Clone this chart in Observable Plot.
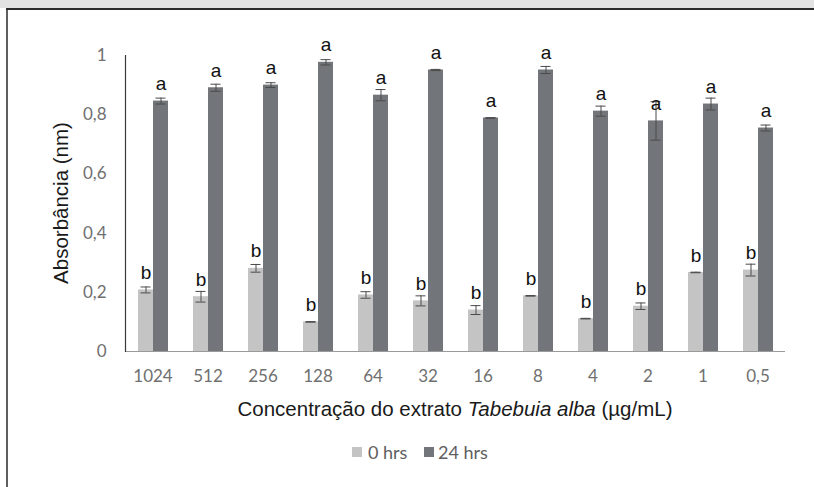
<!DOCTYPE html>
<html>
<head>
<meta charset="utf-8">
<script src="https://cdn.jsdelivr.net/npm/d3@7"></script>
<script src="https://cdn.jsdelivr.net/npm/@observablehq/plot@0.6"></script>
<style>
  html, body { margin: 0; padding: 0; background: #fff; overflow: hidden; }
  #chart { width: 814px; height: 487px; overflow: hidden; }
  #chart svg { display: block; }
</style>
</head>
<body>
<div id="chart"></div>
<script>
const categories = ["1024", "512", "256", "128", "64", "32", "16", "8", "4", "2", "1", "0,5"];
const seriesNames = ["0 hrs", "24 hrs"];
const mean0  = [0.208, 0.185, 0.281, 0.100, 0.191, 0.171, 0.140, 0.188, 0.111, 0.153, 0.267, 0.275];
const err0   = [0.010, 0.018, 0.013, 0.001, 0.011, 0.017, 0.015, 0.001, 0.001, 0.011, 0.001, 0.020];
const mean24 = [0.846, 0.891, 0.900, 0.977, 0.866, 0.951, 0.789, 0.951, 0.812, 0.779, 0.836, 0.755];
const err24  = [0.010, 0.012, 0.008, 0.009, 0.019, 0.002, 0.001, 0.012, 0.017, 0.065, 0.020, 0.010];
const letters0  = ["b", "b", "b", "b", "b", "b", "b", "b", "b", "b", "b", "b"];
const letters24 = ["a", "a", "a", "a", "a", "a", "a", "a", "a", "a", "a", "a"];
const yTicks = [0, 0.2, 0.4, 0.6, 0.8, 1];
const seriesColors = ["#c4c4c4", "#727579"];

const rows = [];
categories.forEach((c, i) => {
  rows.push({cat: c, series: seriesNames[0], v: mean0[i], e: err0[i], letter: letters0[i]});
  rows.push({cat: c, series: seriesNames[1], v: mean24[i], e: err24[i], letter: letters24[i]});
});

const W = 814, H = 487, mL = 122, mR = 26, mT = 55, mB = 136;

const chart = Plot.plot({
  width: W, height: H,
  marginLeft: mL, marginRight: mR, marginTop: mT, marginBottom: mB,
  style: {background: "#ffffff", fontFamily: "Lato, sans-serif", fontSize: "17px", color: "#707070"},
  fx: {domain: categories, padding: 0, axis: "bottom", tickSize: 0, tickPadding: 18, label: null},
  x: {domain: seriesNames, axis: null, paddingInner: 0, paddingOuter: 0.78},
  y: {domain: [0, 1], ticks: yTicks, tickFormat: d => String(d).replace(".", ","), tickSize: 0, tickPadding: 19, label: null},
  color: {domain: seriesNames, range: seriesColors},
  marks: [
    Plot.barY(rows, {fx: "cat", x: "series", y: "v", fill: "series"}),
    Plot.ruleY([0], {stroke: "#9a9a9a", strokeWidth: 1.2}),
    Plot.frame({anchor: "left", facetAnchor: "left", stroke: "#3a3a3a", strokeWidth: 1.2}),
    Plot.ruleX(rows, {fx: "cat", x: "series", y1: d => d.v - d.e, y2: d => d.v + d.e, stroke: "#4a4a4a", strokeWidth: 1}),
    Plot.tickY(rows, {fx: "cat", x: "series", y: d => d.v - d.e, stroke: "#4a4a4a", strokeWidth: 1, insetLeft: 2.5, insetRight: 2.5}),
    Plot.tickY(rows, {fx: "cat", x: "series", y: d => d.v + d.e, stroke: "#4a4a4a", strokeWidth: 1, insetLeft: 2.5, insetRight: 2.5}),
    Plot.text(rows, {fx: "cat", x: "series", y: "v", text: "letter", dy: -17, fill: "#111",
                     fontFamily: "Liberation Sans, Arial, sans-serif", fontSize: 19})
  ]
});
document.getElementById("chart").appendChild(chart);

const svg = d3.select(chart);
const titleFont = "Liberation Sans, Arial, sans-serif";
const cx = (mL + W - mR) / 2;
const cy = (mT + H - mB) / 2;

// chart-area border (cropped picture frame) and top strip
const deco = svg.insert("g", ":first-child");
deco.append("rect").attr("x", 0).attr("y", 0).attr("width", W).attr("height", 8).attr("fill", "#e2e2e2");
deco.append("line").attr("x1", 6).attr("x2", W).attr("y1", 9).attr("y2", 9).attr("stroke", "#2a2a2a").attr("stroke-width", 2);
deco.append("line").attr("x1", 7).attr("x2", 7).attr("y1", 8).attr("y2", H).attr("stroke", "#2a2a2a").attr("stroke-width", 1.5);

svg.append("text")
  .attr("transform", `translate(60,${cy}) rotate(-90)`)
  .attr("text-anchor", "middle")
  .attr("dominant-baseline", "central")
  .style("font-family", titleFont).style("font-size", "20.5px").attr("fill", "#1a1a1a")
  .text("Absorbância (nm)");

const xt = svg.append("text")
  .attr("x", cx).attr("y", 408)
  .attr("text-anchor", "middle")
  .attr("dominant-baseline", "central")
  .style("font-family", titleFont).style("font-size", "20.5px").attr("fill", "#1a1a1a");
xt.append("tspan").text("Concentração do extrato ");
xt.append("tspan").style("font-style", "italic").text("Tabebuia alba");
xt.append("tspan").text(" (µg/mL)");

// legend
const legendItems = [
  {name: seriesNames[0], color: seriesColors[0], sx: 352, tx: 368},
  {name: seriesNames[1], color: seriesColors[1], sx: 424, tx: 438}
];
const lg = svg.append("g").attr("text-anchor", "start");
legendItems.forEach(it => {
  lg.append("rect").attr("x", it.sx).attr("y", 447).attr("width", 10).attr("height", 10).attr("fill", it.color);
  lg.append("text").attr("x", it.tx).attr("y", 452).attr("text-anchor", "start").attr("dominant-baseline", "central")
    .style("font-family", "Lato, sans-serif").style("font-size", "18px").attr("fill", "#5e5e5e")
    .text(it.name);
});

// keep the right margin strip clean
svg.append("rect").attr("x", 798).attr("y", 11).attr("width", 16).attr("height", H - 11).attr("fill", "#ffffff");
</script>
</body>
</html>
